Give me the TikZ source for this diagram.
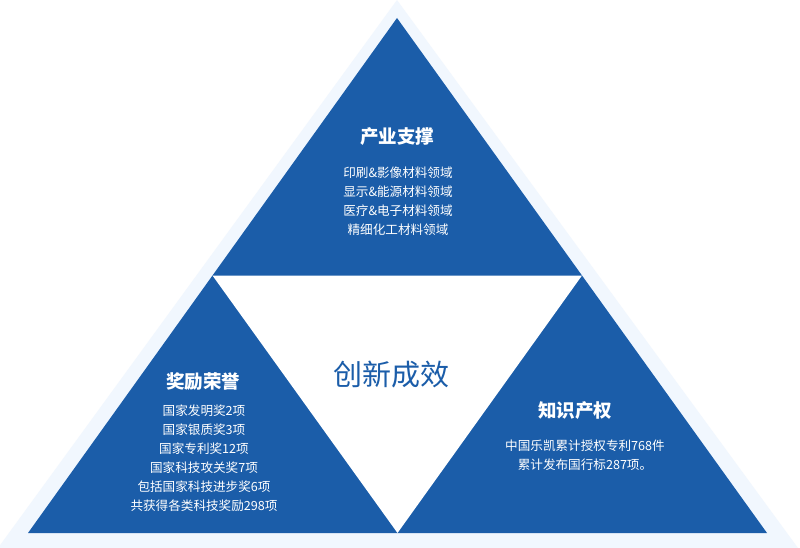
\documentclass[tikz,border=0pt]{standalone}
\usepackage{fontspec}
\usetikzlibrary{calc}
\setmainfont{Noto Sans CJK SC}
\definecolor{mainblue}{HTML}{1B5DA9}
\definecolor{paleblue}{HTML}{F1F7FE}
\begin{document}
\begin{tikzpicture}[x=1pt,y=-1pt,
  headtext/.style={text=white,font=\fontsize{18.5}{22}\selectfont\bfseries,inner sep=0pt},
  bodytext/.style={text=white,font=\fontsize{12.6}{19}\selectfont,align=center,inner sep=0pt},
  centertext/.style={text=mainblue,font=\fontsize{29}{33}\selectfont,inner sep=0pt}]
\useasboundingbox (0,0) rectangle (800,548);
\fill[white] (0,0) rectangle (800,548);
% outer pale triangle
\coordinate (OA) at (397,0);
\coordinate (OL) at (-2,548);
\coordinate (OR) at (798,548);
\fill[paleblue] (OA) -- (OL) -- (OR) -- cycle;
% blue triangle
\coordinate (A) at (397,18);
\coordinate (L) at (28,533);
\coordinate (R) at (767,533);
\fill[mainblue] (A) -- (L) -- (R) -- cycle;
% inner white triangle (medial)
\coordinate (ML) at ($(A)!0.5!(L)$);
\coordinate (MR) at ($(A)!0.5!(R)$);
\coordinate (MB) at ($(L)!0.5!(R)$);
\fill[white] (ML) -- (MR) -- (MB) -- cycle;
% texts
\node[headtext] (t1) at (397,137) {产业支撑};
\node[bodytext] (b1) at (398,201) {印刷\&影像材料领域\\显示\&能源材料领域\\医疗\&电子材料领域\\精细化工材料领域};
\node[centertext] (c) at (391,375) {创新成效};
\node[headtext] (t2) at (203,382) {奖励荣誉};
\node[bodytext] (b2) at (204,458) {国家发明奖2项\\国家银质奖3项\\国家专利奖12项\\国家科技攻关奖7项\\包括国家科技进步奖6项\\共获得各类科技奖励298项};
\node[headtext] (t3) at (575,411) {知识产权};
\node[bodytext] (b3) at (585,455) {中国乐凯累计授权专利768件\\累计发布国行标287项。};
\end{tikzpicture}
\end{document}
